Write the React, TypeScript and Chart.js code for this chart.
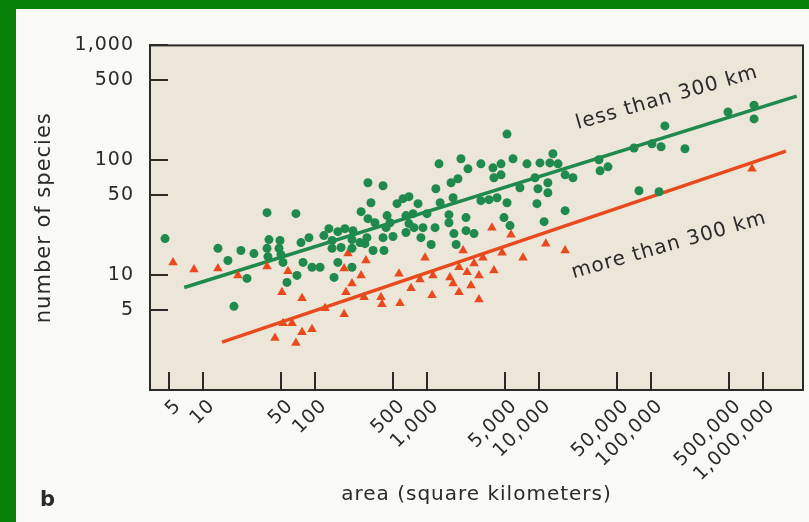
import React, { useEffect, useRef } from "react";
import { Chart, registerables } from "chart.js";

Chart.register(...registerables);

// ---------------- data ----------------
// islands / areas less than 300 km from the source (green dots)
const nearArea = [
  4.58, 13.6, 21.8, 16.7, 28.5, 24.7, 18.9, 37.3, 38.8, 37.3, 38.0, 67.6, 48.7, 47.7, 49.7, 75.0, 88.3, 120, 142, 133,
  160, 185, 218, 214, 252, 291, 142, 171, 214, 279, 330, 413, 51.8, 78.2, 94.0, 111, 160, 214, 69.0, 56.2, 148, 297,
  405, 316, 258, 297, 343,
  2010, 1280, 3030, 2320, 3880, 3960, 1640, 1890, 1200, 540, 611, 690, 832, 1310, 1710, 3030, 3580, 4220, 440, 649,
  750, 1000, 1570, 2230, 468, 431, 690, 765, 920, 1180, 1570, 649, 405, 497, 883, 1740, 2230, 2630, 1090, 1820,
  5180, 5860, 13300, 7810, 10200, 12500, 4580, 14800, 34300, 41300, 35100, 4580, 9210, 17100, 20100, 12000, 6760,
  9790, 12000, 5180, 9590, 17100, 4870, 5510, 11100,
  832000, 487000, 832000, 133000, 70500, 102000, 123000, 201000, 78100, 118000,
];
const nearSpecies = [
  20.8, 17.1, 16.4, 13.4, 15.4, 9.36, 5.35, 35.0, 20.4, 17.1, 14.5, 34.3, 20.0, 17.1, 15.1, 19.2, 21.2, 22.1, 20.0,
  25.4, 23.9, 25.4, 24.4, 20.4, 19.2, 21.2, 17.1, 17.4, 17.1, 18.8, 16.4, 16.4, 12.9, 12.9, 11.7, 11.7, 12.9, 11.7,
  9.94, 8.64, 9.55, 63.7, 60.0, 42.7, 35.7, 31.0, 28.6,
  103, 93.1, 93.1, 84.2, 85.9, 70.4, 63.7, 69.0, 56.5, 41.9, 46.3, 48.2, 41.9, 42.7, 47.2, 44.5, 45.4, 47.2, 33.0,
  33.0, 34.3, 34.3, 33.6, 31.7, 28.6, 25.9, 28.1, 25.9, 25.9, 25.9, 28.6, 23.5, 21.2, 21.7, 21.2, 23.0, 24.4, 23.0,
  18.5, 18.5,
  169, 103, 114, 93.1, 94.9, 94.9, 93.1, 93.1, 101, 87.6, 80.9, 74.7, 70.4, 74.7, 70.4, 63.7, 57.6, 56.5, 52.2, 42.7,
  41.9, 36.4, 31.7, 27.0, 29.2,
  302, 263, 229, 199, 128, 139, 131, 126, 54.3, 53.2,
];

// islands / areas more than 300 km from the source (red triangles)
const farArea = [
  5.4, 8.31, 13.6, 20.5, 37.3, 197, 285, 57.4, 182, 258, 50.7, 76.6, 214, 189, 274, 388, 396, 123, 182, 51.8, 62.4,
  76.6, 94.0, 43.9, 67.6,
  3800, 960, 2100, 3160, 2630, 1930, 2280, 3960, 562, 1130, 866, 2910, 1600, 1710, 2470, 720, 1930, 1110, 2910, 574,
  5620, 4680, 11500, 17100, 7200,
  798000,
];
const farSpecies = [
  12.9, 11.2, 11.4, 9.94, 11.9, 15.4, 13.4, 10.8, 11.4, 9.94, 7.08, 6.28, 8.47, 7.08, 6.41, 6.41, 5.57, 5.14, 4.56,
  3.81, 3.81, 3.18, 3.38, 2.83, 2.56,
  25.9, 14.2, 16.4, 14.2, 12.6, 11.7, 10.6, 11.0, 10.3, 9.94, 9.18, 9.94, 9.55, 8.47, 8.14, 7.67, 7.08, 6.67, 6.15,
  5.68,
  22.5, 15.7, 18.8, 16.4, 14.2,
  84.2,
];

// fitted lines (end points)
const nearFitArea = [6.8, 2000000];
const nearFitSpecies = [7.8, 362];
const farFitArea = [14.8, 1600000];
const farFitSpecies = [2.61, 120];

// axes
const xTicks = [5, 10, 50, 100, 500, 1000, 5000, 10000, 50000, 100000, 500000, 1000000];
const yTicks = [5, 10, 50, 100, 500, 1000];
const xRange = [3.364, 2276000];
const yRange = [1, 1000];

// texts
const xTitle = "area (square kilometers)";
const yTitle = "number of species";
const panelLetter = "b";
const nearLabel = "less than 300 km";
const farLabel = "more than 300 km";
const nearLabelAt = [139000, 348];
const farLabelAt = [145000, 18.1];
const labelAngleDeg = -16;

// ---------------- styles ----------------
const FONT = "'DejaVu Sans', 'Liberation Sans', sans-serif";
const INK = "#2a2a2a";
const GREEN = "#1f8a4b";
const RED = "#e84a1e";
const PAGE_BG = "#f9f9f5";
const PLOT_BG = "#ece6d9";
const FRAME = "#078007";

const fmt = (v: number) => String(Math.round(v)).replace(/\B(?=(\d{3})+(?!\d))/g, ",");

const decor = {
  id: "decor",
  beforeDraw(chart: any) {
    const { ctx, width, height, chartArea: a } = chart;
    ctx.save();
    ctx.fillStyle = PAGE_BG;
    ctx.fillRect(0, 0, width, height);
    ctx.fillStyle = FRAME;
    ctx.fillRect(0, 0, width, 9);
    ctx.fillRect(0, 0, 16, height);
    ctx.fillStyle = PLOT_BG;
    ctx.fillRect(a.left, a.top, a.right - a.left, a.bottom - a.top);
    ctx.restore();
    (ctx as any).letterSpacing = "1px";
  },
  afterDatasetsDraw(chart: any) {
    const { ctx, chartArea: a, scales } = chart;
    ctx.save();
    ctx.strokeStyle = INK;
    ctx.lineWidth = 2;
    ctx.strokeRect(a.left, a.top, a.right - a.left, a.bottom - a.top);

    ctx.fillStyle = INK;
    ctx.font = `20px ${FONT}`;
    ctx.textAlign = "center";
    ctx.textBaseline = "middle";
    const put = (text: string, at: number[]) => {
      const px = scales.x.getPixelForValue(at[0]);
      const py = scales.y.getPixelForValue(at[1]);
      ctx.save();
      ctx.translate(px, py);
      ctx.rotate((labelAngleDeg * Math.PI) / 180);
      ctx.fillText(text, 0, 0);
      ctx.restore();
    };
    put(nearLabel, nearLabelAt);
    put(farLabel, farLabelAt);

    ctx.font = `bold 21px ${FONT}`;
    ctx.textAlign = "left";
    ctx.textBaseline = "alphabetic";
    ctx.fillText(panelLetter, 40, 506);
    ctx.restore();
  },
  afterDraw(chart: any) {
    (chart.ctx as any).letterSpacing = "0px";
  },
};

export default function App() {
  const ref = useRef<HTMLCanvasElement | null>(null);

  useEffect(() => {
    if (!ref.current) return;
    const toPts = (xs: number[], ys: number[]) => xs.map((x, i) => ({ x, y: ys[i] }));
    const chart = new Chart(ref.current, {
      type: "scatter",
      data: {
        datasets: [
          {
            label: nearLabel,
            data: toPts(nearArea, nearSpecies),
            pointStyle: "circle",
            pointRadius: 4.5,
            pointBorderWidth: 0,
            backgroundColor: GREEN,
            borderColor: GREEN,
            order: 0,
          },
          {
            label: farLabel,
            data: toPts(farArea, farSpecies),
            pointStyle: "triangle",
            pointRadius: 5.5,
            pointBorderWidth: 0,
            backgroundColor: RED,
            borderColor: RED,
            order: 0,
          },
          {
            type: "line",
            label: "fit near",
            data: toPts(nearFitArea, nearFitSpecies),
            borderColor: GREEN,
            borderWidth: 3.5,
            pointRadius: 0,
            showLine: true,
            fill: false,
            order: 1,
          } as any,
          {
            type: "line",
            label: "fit far",
            data: toPts(farFitArea, farFitSpecies),
            borderColor: RED,
            borderWidth: 3.5,
            pointRadius: 0,
            showLine: true,
            fill: false,
            order: 1,
          } as any,
        ],
      },
      options: {
        responsive: false,
        animation: false,
        devicePixelRatio: 1,
        events: [],
        layout: { padding: { top: 44, right: 6, left: 0, bottom: 0 } },
        plugins: { legend: { display: false }, tooltip: { enabled: false } },
        scales: {
          x: {
            type: "logarithmic",
            position: "bottom",
            min: xRange[0],
            max: xRange[1],
            afterBuildTicks: (s: any) => {
              s.ticks = xTicks.map((v) => ({ value: v }));
            },
            afterFit: (s: any) => {
              s.height = 132;
            },
            grid: { display: true, drawOnChartArea: false, drawTicks: true, tickLength: -18, color: INK, lineWidth: 2 },
            border: { display: true, color: INK, width: 2 },
            ticks: {
              autoSkip: false,
              minRotation: 45,
              maxRotation: 45,
              padding: 23,
              labelOffset: 9,
              color: INK,
              font: { family: FONT, size: 19 },
              callback: (v: any) => fmt(Number(v)),
            },
            title: {
              display: true,
              text: xTitle,
              color: INK,
              font: { family: FONT, size: 20 },
              padding: { top: 0, bottom: 15 },
            },
          },
          y: {
            type: "logarithmic",
            position: "left",
            min: yRange[0],
            max: yRange[1],
            afterBuildTicks: (s: any) => {
              s.ticks = yTicks.map((v) => ({ value: v }));
            },
            afterFit: (s: any) => {
              s.width = 150;
            },
            grid: { display: true, drawOnChartArea: false, drawTicks: true, tickLength: -18, color: INK, lineWidth: 2 },
            border: { display: true, color: INK, width: 2 },
            ticks: {
              autoSkip: false,
              padding: 34,
              color: INK,
              font: { family: FONT, size: 19 },
              callback: (v: any) => fmt(Number(v)),
            },
            title: {
              display: true,
              text: yTitle,
              color: INK,
              font: { family: FONT, size: 21 },
              padding: { top: 32, bottom: 0 },
            },
          },
        },
      },
      plugins: [decor],
    } as any);
    return () => chart.destroy();
  }, []);

  return (
    <div style={{ position: "fixed", left: 0, top: 0, width: 809, height: 522 }}>
      <canvas ref={ref} width={809} height={522} style={{ display: "block", width: 809, height: 522 }} />
    </div>
  );
}
